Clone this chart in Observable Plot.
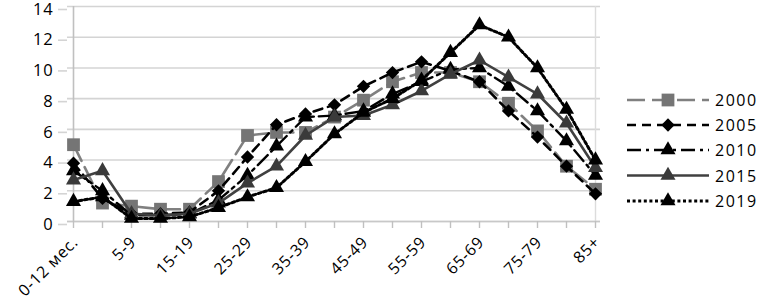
<!DOCTYPE html>
<html>
<head>
<meta charset="utf-8">
<script src="https://cdn.jsdelivr.net/npm/d3@7"></script>
<script src="https://cdn.jsdelivr.net/npm/@observablehq/plot@0.6"></script>
<style>
  html, body { margin: 0; padding: 0; background: #fff; }
  #wrap { position: relative; width: 757px; height: 300px; overflow: hidden; }
  #legend { position: absolute; left: 0; top: 0; }
  #wrap svg text { letter-spacing: 0.8px; }
</style>
</head>
<body>
<div id="wrap"></div>
<script>
const categories = ["0-12 мес.","1-4","5-9","10-14","15-19","20-24","25-29","30-34","35-39","40-44","45-49","50-54","55-59","60-64","65-69","70-74","75-79","80-84","85+"];
const labeledCategories = ["0-12 мес.","5-9","15-19","25-29","35-39","45-49","55-59","65-69","75-79","85+"];
const yTicks = [0, 2, 4, 6, 8, 10, 12, 14];
const years = ["2000", "2005", "2010", "2015", "2019"];

const v2000 = [5.0, 1.2, 1.0, 0.8, 0.8, 2.6, 5.6, 5.8, 5.8, 6.8, 7.9, 9.1, 9.7, 9.7, 9.1, 7.7, 5.9, 3.6, 2.1];
const v2005 = [3.8, 1.5, 0.5, 0.5, 0.6, 2.0, 4.2, 6.3, 7.0, 7.6, 8.8, 9.7, 10.4, 9.8, 9.1, 7.2, 5.5, 3.6, 1.8];
const v2010 = [3.3, 2.0, 0.4, 0.4, 0.5, 1.4, 3.0, 4.9, 6.8, 6.9, 7.2, 8.3, 9.1, 9.9, 10.0, 8.8, 7.2, 5.25, 3.0];
const v2015 = [2.7, 3.3, 0.5, 0.4, 0.5, 1.2, 2.5, 3.6, 5.6, 6.8, 6.9, 7.6, 8.5, 9.6, 10.5, 9.4, 8.3, 6.4, 3.5];
const v2019 = [1.3, 1.6, 0.2, 0.2, 0.3, 0.9, 1.6, 2.2, 3.9, 5.7, 7.1, 8.0, 9.2, 11.0, 12.8, 12.0, 10.0, 7.3, 4.0];

const seriesValues = [v2000, v2005, v2010, v2015, v2019];

const styles = {
  "2000": {stroke: "#808080", dash: "18,7", symbol: "square", r: 7.2, fill: "#757575", width: 2.6},
  "2005": {stroke: "#000000", dash: "9,6", symbol: "diamond2", r: 6, fill: "#000000", width: 2.6},
  "2010": {stroke: "#000000", dash: "14,5,3,5", symbol: "triangle", r: 5.6, fill: "#000000", width: 2.4},
  "2015": {stroke: "#404040", dash: null, symbol: "triangle", r: 5.6, fill: "#3a3a3a", width: 2.6},
  "2019": {stroke: "#000000", dash: "3,2.6", symbol: "triangle", r: 5.6, fill: "#000000", width: 3}
};

const series = years.map((y, k) => ({
  year: y,
  data: categories.map((c, i) => ({cat: c, value: seriesValues[k][i]}))
}));

const font = "'Open Sans', sans-serif";

const marks = [
  Plot.gridY(yTicks, {stroke: "#d4d4d4", strokeOpacity: 1, strokeWidth: 1.6}),
  Plot.axisY(yTicks, {tickSize: 9, tickPadding: 5, dy: 3, stroke: "#d4d4d4", strokeWidth: 1.6, fontSize: 16.5, fill: "#000", label: null}),
  Plot.ruleX([categories[0]], {stroke: "#c0c0c0", strokeWidth: 1.6}),
  Plot.ruleX([categories[categories.length - 1]], {stroke: "#dcdcdc", strokeWidth: 1.4}),
  Plot.ruleY([0], {stroke: "#c8c8c8", strokeWidth: 1.6}),
  Plot.axisX(categories, {tickSize: 7, stroke: "#c0c0c0", strokeWidth: 1.4, text: null, label: null}),
  Plot.axisX(labeledCategories, {tickSize: 0, tickPadding: 18, dx: 2, tickRotate: -45, fontSize: 16, fill: "#000", label: null})
];

for (const s of series) {
  const st = styles[s.year];
  marks.push(Plot.line(s.data, {x: "cat", y: "value", stroke: st.stroke, strokeWidth: st.width, strokeDasharray: st.dash || undefined}));
  marks.push(Plot.dot(s.data, {x: "cat", y: "value", symbol: st.symbol, r: st.r, fill: st.fill, stroke: "none"}));
}

const chart = Plot.plot({
  width: 757,
  height: 300,
  marginLeft: 67,
  marginRight: 157,
  marginTop: 6,
  marginBottom: 79,
  style: {fontFamily: font, background: "#fff"},
  x: {type: "point", domain: categories, padding: 0},
  y: {domain: [0, 14]},
  marks
});

const wrap = document.getElementById("wrap");
wrap.appendChild(chart);

// Legend
const legend = d3.select(wrap).append("svg")
  .attr("id", "legend")
  .attr("width", 757)
  .attr("height", 300);

const symMap = {square: d3.symbolSquare, diamond2: d3.symbolDiamond2, triangle: d3.symbolTriangle};
const rowY = [100, 125, 150, 175.5, 201];
years.forEach((y, k) => {
  const st = styles[y];
  const g = legend.append("g").attr("transform", `translate(0,${rowY[k]})`);
  g.append("line")
    .attr("x1", 627).attr("x2", 709).attr("y1", 0).attr("y2", 0)
    .attr("stroke", st.stroke).attr("stroke-width", st.width)
    .attr("stroke-dasharray", st.dash);
  g.append("path")
    .attr("transform", "translate(668,0)")
    .attr("d", d3.symbol(symMap[st.symbol], Math.PI * st.r * st.r)())
    .attr("fill", st.fill);
  g.append("text")
    .attr("x", 715).attr("y", 6)
    .attr("font-family", font)
    .attr("font-size", 16)
    .style("letter-spacing", "1.5px")
    .text(y);
});
</script>
</body>
</html>
